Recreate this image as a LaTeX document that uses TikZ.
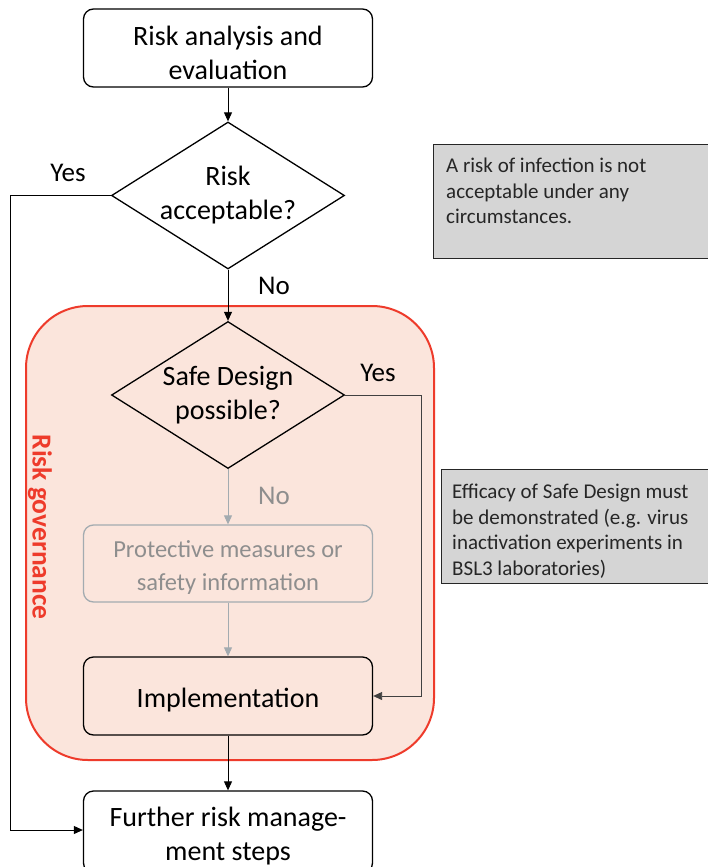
\documentclass[tikz,border=0pt]{standalone}
\usepackage{fontspec}
\setmainfont{Carlito}
\usetikzlibrary{shapes.geometric,arrows.meta}
\definecolor{govfill}{HTML}{FBE5DC}
\definecolor{govred}{HTML}{EE3B2B}
\definecolor{notegray}{HTML}{D5D5D5}
\definecolor{fadegray}{HTML}{A3ABB0}
\definecolor{fadetext}{HTML}{8E8E8E}
\newcommand\mainfs{\fontsize{28}{34}\selectfont}
\newcommand\protfs{\fontsize{24.5}{33}\selectfont}
\newcommand\labfs{\fontsize{27}{30}\selectfont}
\newcommand\notefs{\fontsize{21}{25.5}\selectfont}
\begin{document}
\begin{tikzpicture}[x=1pt,y=-1pt,
  procbox/.style={draw, rounded corners=10pt, line width=1.3pt, minimum width=289pt, minimum height=78pt, inner sep=0pt},
  boxtext/.style={font=\mainfs, align=center, inner sep=0pt, yshift=-4.5pt},
  decision/.style={draw, diamond, aspect=1.585, line width=1.3pt, minimum width=233pt, minimum height=147pt, inner sep=0pt, align=center, font=\mainfs},
  flow/.style={line width=0.9pt, -{Triangle[length=9pt,width=8pt]}},
  fadeflow/.style={flow, draw=fadegray},
  notebox/.style={draw=black!85, fill=notegray, line width=1.3pt, minimum width=290pt, minimum height=114pt, inner sep=0pt},
  notetext/.style={anchor=north west, align=left, font=\notefs, text=black!85, inner sep=0pt},
  lab/.style={font=\labfs, inner sep=0pt}
]
\useasboundingbox (0,0) rectangle (707,867);
% risk governance region
\node[draw=govred, fill=govfill, line width=2pt, rounded corners=62pt, minimum width=408pt, minimum height=454pt] (gov) at (230,533) {};
\node[rotate=-90, font=\fontsize{27.5}{30}\selectfont\bfseries, text=govred, inner sep=0pt] (govlab) at (40,527) {Risk governance};

% notes
\node[notebox, anchor=north west] (n1) at (433,144) {};
\node[notetext] (n1t) at (446,158) {A risk of infection is not\\acceptable under any\\circumstances.};
\node[notebox, anchor=north west] (n2) at (441,469) {};
\node[notetext] (n2t) at (452,484) {Efficacy of Safe Design must\\be demonstrated (e.g. virus\\inactivation experiments in\\BSL3 laboratories)};

% flow nodes
\node[procbox, fill=white, label={[boxtext]center:Risk analysis and\\evaluation}] (top) at (228,48) {};
\node[decision, fill=white] (d1) at (228,195.5) {Risk\\acceptable?};
\node[decision] (d2) at (228,395) {Safe Design\\possible?};
\node[procbox, draw=fadegray, minimum height=77pt, label={[boxtext, font=\protfs, text=fadetext, yshift=1pt]center:Protective measures or\\safety information}] (prot) at (228,563.5) {};
\node[procbox, label={[boxtext]center:Implementation}] (impl) at (228,696) {};
\node[procbox, fill=white, minimum height=82pt, label={[boxtext]center:Further risk manage-\\ment steps}] (bot) at (228,832) {};

% labels
\node[lab] (yes1) at (68,173) {Yes};
\node[lab] (no1) at (274,286) {No};
\node[lab] (yes2) at (378,373) {Yes};
\node[lab, text=fadetext] (no2) at (274,496) {No};

% connectors
\coordinate (c1) at (10,830);
\coordinate (c2) at (421,395);
\draw[flow] (top.south) -- (d1.north);
\draw[flow] (d1.south) -- (d2.north);
\draw[flow] (d1.west) -| (c1) -- (bot.west |- c1);
\draw[flow, draw=black!75] (d2.east) -- (c2) |- (impl.east);
\draw[fadeflow] (d2.south) -- (prot.north);
\draw[fadeflow] (prot.south) -- (impl.north);
\draw[flow] (impl.south) -- (bot.north);
\end{tikzpicture}
\end{document}
